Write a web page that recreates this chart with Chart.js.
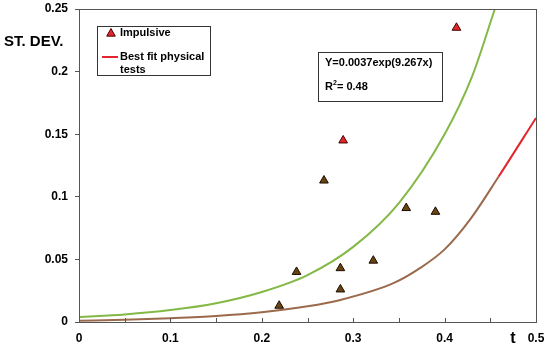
<!DOCTYPE html>
<html>
<head>
<meta charset="utf-8">
<script src="https://cdn.jsdelivr.net/npm/chart.js@4.4.1/dist/chart.umd.min.js"></script>
<style>
html,body{margin:0;padding:0;background:#fff;}
</style>
</head>
<body>
<canvas id="myChart" width="550" height="349"></canvas>
<script>
'use strict'
// impulsive tests
let redT=[0.289,0.413];
let redY=[0.145,0.235];
let brownT=[0.219,0.238,0.268,0.286,0.286,0.322,0.358,0.390];
let brownY=[0.013,0.040,0.113,0.043,0.026,0.049,0.091,0.088];

// upper curve (Y=0.0037exp(9.267x))
let greenT=[0,0.05,0.1,0.15,0.2,0.25,0.3,0.35,0.4,0.43,0.455];
let greenY=[0.0040,0.0060,0.0095,0.0150,0.0240,0.0375,0.0600,0.0950,0.150,0.196,0.25];

// best fit physical tests
let fitT=[0,0.05,0.1,0.15,0.2,0.25,0.286,0.344,0.373,0.4,0.428,0.459,0.5];
let fitY=[0.001,0.0017,0.003,0.0048,0.0078,0.0125,0.0176,0.031,0.043,0.058,0.082,0.116,0.163];

let xTicks=['0','0.1','0.2','0.3','0.4','0.5'];
let yTicks=['0','0.05','0.1','0.15','0.2','0.25'];

function toPts(xs,ys){
  let out=[];
  for(let i=0;i<xs.length;i++){ out.push({x:xs[i],y:ys[i]}); }
  return out;
}

const RED='#e2262b';
const BROWN_PT='#6a4312';
const BROWN_LINE='#9b6a4c';
const GREEN='#84b847';
const FONT='"Liberation Sans", Arial, sans-serif';

function tri(ctx,x,y,r,fill,stroke){
  ctx.beginPath();
  ctx.moveTo(x,y-r);
  ctx.lineTo(x+r*0.95,y+r*0.7);
  ctx.lineTo(x-r*0.95,y+r*0.7);
  ctx.closePath();
  ctx.fillStyle=fill;ctx.fill();
  ctx.strokeStyle=stroke;ctx.lineWidth=1;ctx.stroke();
}

const extras={
  id:'extras',
  afterDraw(chart){
    let ctx=chart.ctx;
    let a=chart.chartArea;
    let xs=chart.scales.x;
    ctx.save();
    // frame
    ctx.strokeStyle='#555';ctx.lineWidth=1;
    ctx.strokeRect(Math.round(a.left)+0.5,Math.round(a.top)+0.5,Math.round(a.right-a.left),Math.round(a.bottom-a.top));
    // inward x ticks every 0.05
    ctx.beginPath();
    xs.ticks.forEach(function(t){
      let px=Math.round(xs.getPixelForValue(t.value))+0.5;
      ctx.moveTo(px,a.bottom);ctx.lineTo(px,a.bottom-4);
    });
    ctx.stroke();

    ctx.fillStyle='#000';
    ctx.textBaseline='middle';
    ctx.textAlign='left';
    ctx.font='bold 15px '+FONT;
    ctx.fillText('ST. DEV.',4,42);
    ctx.textAlign='center';
    ctx.font='bold 16px '+FONT;
    ctx.fillText('t',513,339);

    // legend box
    let lx=a.left+18, ly=a.top+17;
    ctx.strokeStyle='#333';
    ctx.strokeRect(lx+0.5,ly+0.5,113,49);
    tri(ctx,lx+14,ly+7,4.5,RED,'#400');
    ctx.strokeStyle=RED;ctx.lineWidth=2;
    ctx.beginPath();ctx.moveTo(lx+5,ly+31);ctx.lineTo(lx+21,ly+31);ctx.stroke();
    ctx.fillStyle='#000';
    ctx.textAlign='left';
    ctx.font='bold 11px '+FONT;
    ctx.fillText('Impulsive',lx+23,ly+7);
    ctx.fillText('Best fit physical',lx+23,ly+31);
    ctx.fillText('tests',lx+23,ly+44);

    // equation box
    let ex=a.left+239, ey=a.top+43;
    ctx.strokeStyle='#333';ctx.lineWidth=1;
    ctx.strokeRect(ex+0.5,ey+0.5,124,49);
    ctx.fillText('Y=0.0037exp(9.267x)',ex+7,ey+11);
    ctx.fillText('R',ex+7,ey+35);
    let rw=ctx.measureText('R').width;
    ctx.font='bold 7px '+FONT;
    ctx.fillText('2',ex+7+rw,ey+31);
    ctx.font='bold 11px '+FONT;
    ctx.fillText('= 0.48',ex+7+rw+4,ey+35);
    ctx.restore();
  }
};

function noPad(s){
  s.paddingTop=0;s.paddingBottom=0;s.paddingLeft=0;s.paddingRight=0;
}

let ctx=document.getElementById('myChart').getContext('2d');
let myChart=new Chart(ctx,{
  type:'scatter',
  data:{
    datasets:[
      {
        label:'Impulsive',
        data:toPts(redT,redY),
        pointStyle:'triangle',
        pointRadius:5,
        pointBackgroundColor:RED,
        pointBorderColor:'#400',
        pointBorderWidth:1
      },
      {
        label:'Impulsive (lower)',
        data:toPts(brownT,brownY),
        pointStyle:'triangle',
        pointRadius:5,
        pointBackgroundColor:BROWN_PT,
        pointBorderColor:'#1a0d00',
        pointBorderWidth:1
      },
      {
        label:'Exp',
        type:'line',
        data:toPts(greenT,greenY),
        borderColor:GREEN,
        borderWidth:2,
        pointRadius:0,
        cubicInterpolationMode:'monotone',
        fill:false
      },
      {
        label:'Best fit physical tests',
        type:'line',
        data:toPts(fitT,fitY),
        borderColor:BROWN_LINE,
        borderWidth:2,
        pointRadius:0,
        cubicInterpolationMode:'monotone',
        fill:false,
        segment:{
          borderColor:function(c){ return c.p0.parsed.x>=0.459 ? RED : BROWN_LINE; }
        }
      }
    ]
  },
  options:{
    responsive:false,
    animation:false,
    layout:{padding:{top:9,right:14,left:0,bottom:0}},
    plugins:{legend:{display:false},tooltip:{enabled:false}},
    scales:{
      x:{
        type:'linear',min:0,max:0.5,
        afterFit:function(s){ s.height=27; noPad(s); },
        border:{display:true,color:'#555',width:1},
        grid:{display:false},
        ticks:{
          stepSize:0.05,
          autoSkip:false,
          maxRotation:0,
          padding:1,
          color:'#000',
          font:{family:FONT,size:12,weight:'bold'},
          callback:function(v,i){ return i%2===0 ? xTicks[i/2] : ''; }
        }
      },
      y:{
        min:0,max:0.25,
        afterFit:function(s){ s.width=79; noPad(s); },
        border:{display:true,color:'#555',width:1},
        grid:{drawOnChartArea:false,drawTicks:true,tickLength:4,color:'#555'},
        ticks:{
          stepSize:0.05,
          padding:7,
          color:'#000',
          font:{family:FONT,size:12,weight:'bold'},
          callback:function(v,i){ return yTicks[i]; }
        }
      }
    }
  },
  plugins:[extras]
});
</script>
</body>
</html>
